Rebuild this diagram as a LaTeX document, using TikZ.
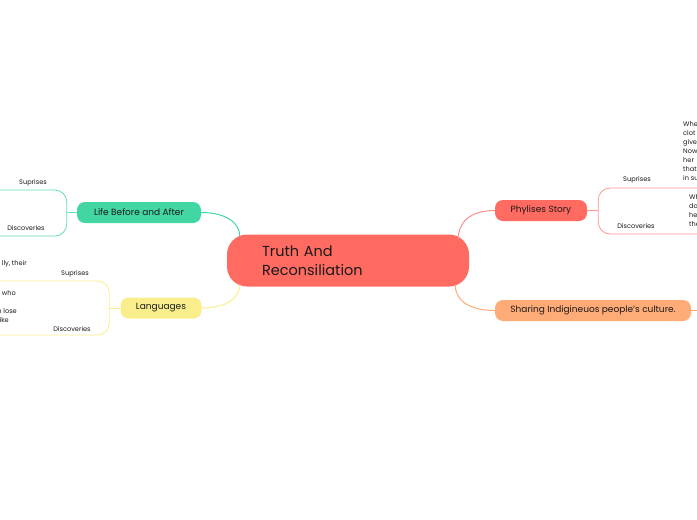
\documentclass[tikz,border=0pt]{standalone}
\usepackage{fontspec}
\setmainfont{Poppins}
\usetikzlibrary{calc,positioning}
\definecolor{ink}{HTML}{1A1A1A}
\definecolor{rootred}{HTML}{FF6A61}
\definecolor{lifegreen}{HTML}{41D6A2}
\definecolor{langyellow}{HTML}{F9EE8B}
\definecolor{storyred}{HTML}{FF6A61}
\definecolor{shareorange}{HTML}{FFAB78}
\tikzset{
  root/.style={fill=rootred, rounded corners=20pt, minimum width=242pt, minimum height=52pt,
    text width=172pt, inner xsep=35pt, align=left, text=ink, font=\fontsize{14.5}{19}\selectfont},
  branch/.style={rounded corners=8pt, minimum height=21pt, inner sep=0pt, text=ink,
    font=\fontsize{9}{10}\selectfont},
  link/.style={line width=1pt},
  twig/.style={line width=0.8pt, rounded corners=12pt},
  note/.style={inner sep=0pt, text=ink, align=left, font=\fontsize{6.6}{9}\selectfont}
}

\begin{document}
\begin{tikzpicture}[x=1pt, y=-1pt]
  \useasboundingbox (0,0) rectangle (697,520);
  \clip (0,0) rectangle (697,520);
  % main topic and branches
  \node[root] (root) at (348,260.5) {Truth And\\Reconsiliation};
  \node[branch, fill=lifegreen, minimum width=124pt] (life) at (139,212.5) {Life Before and After};
  \node[branch, fill=langyellow, minimum width=81pt] (lang) at (161,308) {Languages};
  \node[branch, fill=storyred, minimum width=92pt] (story) at (541,210.5) {Phylises Story};
  \node[branch, fill=shareorange, minimum width=196pt] (share) at (593,310.5) {Sharing Indigineuos people's culture.};
  % links to the main topic
  \draw[link, lifegreen] (life.east) .. controls +(24,0) and +(0,-14) .. ($(root.north west)+(13,2)$);
  \draw[link, langyellow] (lang.east) .. controls +(24,0) and +(0,14) .. ($(root.south west)+(13,-2)$);
  \draw[link, storyred!75] (story.west) .. controls +(-26,0) and +(0,-16) .. ($(root.north east)+(-11,5)$);
  \draw[link, shareorange] (share.west) .. controls +(-28,0) and +(0,14) .. ($(root.south east)+(-14,-2)$);
  % sub-branches
  \draw[twig, lifegreen!80] (life.west) -- ++(-10,0) coordinate (lifefork);
  \draw[twig, lifegreen!80] (-5,190) -| (lifefork) |- (-5,236);
  \draw[twig, langyellow] (lang.west) -- ++(-11,0) coordinate (langfork);
  \draw[twig, langyellow] (-5,281) -| (langfork) |- (-5,335);
  \draw[twig, storyred!70] (story.east) -- ++(11,0) coordinate (storyfork);
  \draw[twig, storyred!70] (705,188) -| (storyfork) |- (705,234);
  \draw[link, shareorange] (share.east) -- ++(12,0) coordinate (shareend);
  % labels
  \node[note] (lifesur) at (33,183) {Suprises};
  \node[note] (lifedis) at (26,228) {Discoveries};
  \node[note] (langsur) at (75,274) {Suprises};
  \node[note] (langdis) at (72,329) {Discoveries};
  \node[note, anchor=east] (langa) at (27,264) {lly, their};
  \node[note, anchor=east] (langb) at (16,293) {e who};
  \node[note, anchor=east] (langc) at (17,311) {n lose};
  \node[note, anchor=east] (langd) at (9,320) {ike};
  \node[note] (storysur) at (637,180) {Suprises};
  \node[note] (storydis) at (636,226) {Discoveries};
  \node[note, anchor=north west] (storya) at (683,121.5) {Whe\\clot\\give\\Now\\her\\that\\in su};
  \node[note, anchor=north west] (storyb) at (689,194.5) {Wh\\da\\he\\the};
\end{tikzpicture}
\end{document}
